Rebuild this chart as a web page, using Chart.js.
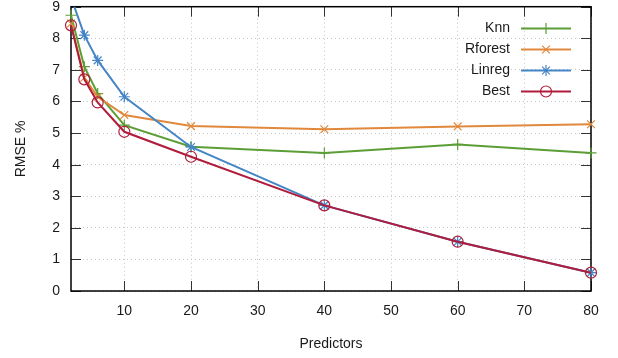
<!DOCTYPE html>
<html><head><meta charset="utf-8">
<script src="https://cdn.jsdelivr.net/npm/chart.js@4/dist/chart.umd.min.js"></script>
<style>html,body{margin:0;padding:0;background:#fff}#wrap{width:618px;height:358px}</style>
</head><body><div id="wrap"><canvas id="c" width="618" height="358"></canvas></div>
<script>
const predictors = [2, 4, 6, 10, 20, 40, 60, 80];
const knn     = [8.73, 7.10, 6.25, 5.25, 4.57, 4.37, 4.64, 4.37];
const rforest = [8.47, 6.75, 6.15, 5.57, 5.22, 5.12, 5.21, 5.28];
const linreg  = [9.30, 8.10, 7.30, 6.15, 4.56, 2.71, 1.56, 0.58];
const best    = [8.41, 6.70, 5.97, 5.04, 4.25, 2.71, 1.56, 0.58];
const xTicks = [10, 20, 30, 40, 50, 60, 70, 80];
const yTicks = [0, 1, 2, 3, 4, 5, 6, 7, 8, 9];
const seriesNames = ['Knn', 'Rforest', 'Linreg', 'Best'];

const FONT = {family: '"Liberation Sans", Arial, Helvetica, sans-serif', size: 14};
const TXT = '#1a1a1a';
const styles = [
  {color: '#5c9e36', pointStyle: 'cross', radius: 5.5, order: 4},
  {color: '#e0883c', pointStyle: 'crossRot', radius: 5.5, order: 3},
  {color: '#4485c5', pointStyle: 'star', radius: 5.5, order: 2},
  {color: '#b01c3c', pointStyle: 'circle', radius: 5.5, order: 1}
];
const values = [knn, rforest, linreg, best];

const datasets = values.map((vals, i) => ({
  label: seriesNames[i],
  data: predictors.map((p, j) => ({x: p, y: vals[j]})),
  borderColor: styles[i].color,
  backgroundColor: 'rgba(0,0,0,0)',
  borderWidth: 2,
  pointStyle: styles[i].pointStyle,
  pointRadius: styles[i].radius,
  pointBorderWidth: 1.2,
  pointBorderColor: styles[i].color,
  pointBackgroundColor: 'rgba(0,0,0,0)',
  tension: 0,
  order: styles[i].order,
  clip: {left: 12, right: 12, top: 0, bottom: 12}
}));

const framePlugin = {
  id: 'frame',
  beforeDatasetsDraw(chart) {
    const {ctx, chartArea: a, scales} = chart;
    ctx.save();
    ctx.strokeStyle = '#333';
    ctx.lineWidth = 1;
    ctx.beginPath();
    xTicks.forEach(v => {
      const x = Math.round(scales.x.getPixelForValue(v)) + 0.5;
      ctx.moveTo(x, a.bottom); ctx.lineTo(x, a.bottom - 10);
      ctx.moveTo(x, a.top); ctx.lineTo(x, a.top + 10);
    });
    yTicks.forEach(v => {
      const y = Math.round(scales.y.getPixelForValue(v)) + 0.5;
      ctx.moveTo(a.left, y); ctx.lineTo(a.left + 10, y);
      ctx.moveTo(a.right, y); ctx.lineTo(a.right - 10, y);
    });
    ctx.stroke();
    ctx.strokeStyle = '#000';
    ctx.lineWidth = 1.5;
    ctx.strokeRect(a.left, a.top, a.right - a.left, a.bottom - a.top);
    ctx.restore();
  },
  afterDatasetsDraw(chart) {
    const {ctx} = chart;
    ctx.save();
    ctx.font = FONT.size + 'px ' + FONT.family;
    ctx.textAlign = 'right';
    ctx.textBaseline = 'middle';
    const rowY = [28.5, 49.5, 70.5, 91.5];
    seriesNames.forEach((name, i) => {
      const y = rowY[i];
      ctx.fillStyle = TXT;
      ctx.fillText(name, 510, y);
      ctx.strokeStyle = styles[i].color;
      ctx.lineWidth = 2;
      ctx.beginPath(); ctx.moveTo(521, y); ctx.lineTo(571, y); ctx.stroke();
      ctx.lineWidth = 1.2;
      ctx.fillStyle = 'rgba(0,0,0,0)';
      Chart.helpers.drawPoint(ctx, {pointStyle: styles[i].pointStyle, radius: styles[i].radius, borderWidth: 1.2, rotation: 0}, 546, y);
    });
    ctx.restore();
  }
};

new Chart(document.getElementById('c'), {
  type: 'line',
  data: {datasets},
  options: {
    responsive: false,
    devicePixelRatio: 1,
    animation: false,
    layout: {padding: {top: 6, right: 27, left: 0, bottom: 0}},
    plugins: {legend: {display: false}, tooltip: {enabled: false}},
    scales: {
      x: {
        type: 'linear', min: 2, max: 80,
        afterBuildTicks: s => { s.ticks = xTicks.map(v => ({value: v})); },
        afterFit: s => { s.height = 67; s.paddingLeft = 0; s.paddingRight = 0; },
        ticks: {font: FONT, color: TXT, padding: 12, maxRotation: 0, autoSkip: false},
        grid: {color: '#c4c4c4', lineWidth: 1, drawTicks: false},
        border: {display: false, dash: [1, 3]},
        title: {display: true, text: 'Predictors', font: FONT, color: TXT, padding: {top: 0, bottom: 5.5}}
      },
      y: {
        type: 'linear', min: 0, max: 9,
        afterBuildTicks: s => { s.ticks = yTicks.map(v => ({value: v})); },
        afterFit: s => { s.width = 71; s.paddingTop = 0; s.paddingBottom = 0; },
        ticks: {font: FONT, color: TXT, padding: 11},
        grid: {color: '#c4c4c4', lineWidth: 1, drawTicks: false},
        border: {display: false, dash: [1, 3]},
        title: {display: true, text: 'RMSE %', font: FONT, color: TXT, padding: {top: 12.5, bottom: 0}}
      }
    }
  },
  plugins: [framePlugin]
});
</script>
</body></html>
